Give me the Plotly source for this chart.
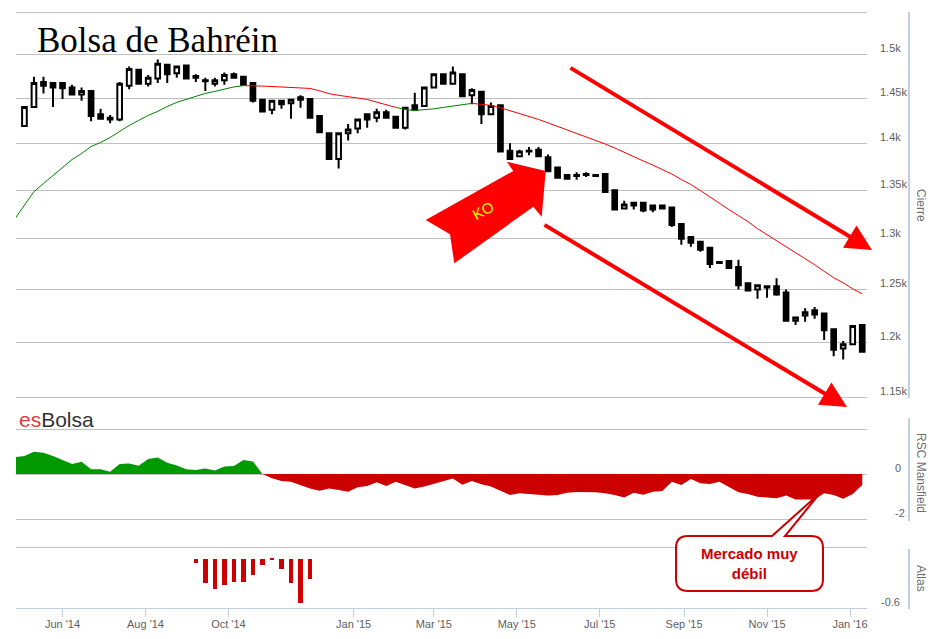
import math

import pandas as pd
import plotly.graph_objects as go

# weekly bars; week 0 is only used by the indicators (it sits left of the view)
weeks = pd.date_range("2014-04-27", periods=90, freq="7D")
candle_weeks = weeks[1:]

opens = [1419, 1440, 1468, 1467, 1467, 1462, 1454, 1458, 1432, 1428,
         1426, 1464, 1482, 1466, 1472, 1488, 1478, 1487, 1475, 1470,
         1466, 1470, 1477, 1474, 1467, 1448, 1437, 1447, 1444, 1451,
         1449, 1430, 1411, 1383, 1411, 1416, 1432, 1428, 1434, 1429,
         1417, 1442, 1441, 1462, 1477, 1466, 1477, 1453, 1457, 1432,
         1442, 1392, 1386, 1391, 1393, 1385, 1374, 1366, 1366, 1367,
         1366, 1367, 1350, 1331, 1337, 1337, 1334, 1334, 1332, 1315,
         1302, 1297, 1291, 1277, 1278, 1272, 1256, 1250, 1253, 1253,
         1247, 1220, 1225, 1230, 1227, 1212, 1194, 1198, 1216]
highs = [1441, 1474, 1474, 1468, 1467, 1465, 1462, 1458, 1438, 1431,
         1468, 1486, 1483, 1476, 1494, 1489, 1487, 1488, 1477, 1473,
         1473, 1479, 1479, 1475, 1468, 1448, 1447, 1447, 1448, 1453,
         1450, 1430, 1411, 1411, 1421, 1427, 1432, 1438, 1437, 1430,
         1440, 1456, 1462, 1478, 1477, 1486, 1477, 1461, 1458, 1445,
         1442, 1400, 1393, 1396, 1396, 1388, 1374, 1366, 1369, 1369,
         1367, 1367, 1350, 1339, 1337, 1337, 1334, 1335, 1332, 1315,
         1302, 1297, 1291, 1277, 1278, 1279, 1256, 1255, 1254, 1261,
         1250, 1224, 1232, 1233, 1227, 1212, 1201, 1215, 1216]
lows = [1418, 1439, 1455, 1440, 1449, 1454, 1447, 1424, 1427, 1422,
        1424, 1460, 1465, 1463, 1467, 1467, 1473, 1472, 1468, 1458,
        1463, 1465, 1472, 1464, 1445, 1434, 1432, 1438, 1427, 1439,
        1428, 1411, 1382, 1373, 1403, 1411, 1417, 1423, 1427, 1417,
        1415, 1437, 1440, 1462, 1465, 1465, 1452, 1443, 1421, 1432,
        1390, 1383, 1385, 1387, 1385, 1370, 1363, 1362, 1361, 1364,
        1364, 1348, 1330, 1330, 1330, 1327, 1327, 1331, 1312, 1294,
        1292, 1287, 1271, 1275, 1270, 1250, 1248, 1241, 1242, 1244,
        1220, 1216, 1219, 1222, 1202, 1187, 1184, 1198, 1191]
closes = [1440, 1467, 1464, 1462, 1461, 1454, 1458, 1430, 1427, 1426,
          1466, 1483, 1466, 1473, 1489, 1477, 1486, 1472, 1473, 1469,
          1470, 1476, 1473, 1465, 1447, 1435, 1447, 1443, 1448, 1448,
          1428, 1412, 1383, 1411, 1415, 1426, 1426, 1434, 1428, 1417,
          1439, 1437, 1462, 1477, 1466, 1479, 1452, 1459, 1432, 1441,
          1391, 1383, 1391, 1392, 1386, 1370, 1363, 1362, 1365, 1366,
          1365, 1348, 1330, 1335, 1334, 1329, 1330, 1331, 1314, 1300,
          1296, 1289, 1275, 1276, 1271, 1254, 1249, 1254, 1252, 1245,
          1220, 1223, 1228, 1226, 1211, 1193, 1198, 1215, 1191]

# moving average of the close (one value per week, week 0 included)
ma30 = [1320.5, 1335.0, 1348.5, 1357.0, 1365.4, 1373.9, 1382.5, 1388.9, 1396.5, 1400.9,
        1406.3, 1412.9, 1419.5, 1425.0, 1430.6, 1435.0, 1440.6, 1445.1, 1448.4, 1451.8,
        1455.2, 1457.5, 1460.3, 1462.5, 1464.0, 1464.0, 1463.5, 1463.0, 1462.3, 1462.0,
        1461.4, 1460.8, 1458.1, 1454.9, 1453.0, 1451.8, 1450.0, 1448.4, 1445.7, 1442.9,
        1439.5, 1437.2, 1436.1, 1436.9, 1437.9, 1439.5, 1441.2, 1442.5, 1444.0, 1443.0,
        1441.8, 1439.1, 1435.9, 1432.8, 1429.5, 1426.1, 1422.3, 1418.4, 1415.1, 1411.2,
        1407.4, 1403.6, 1399.2, 1394.9, 1390.0, 1385.7, 1380.9, 1376.6, 1371.8, 1367.0,
        1361.2, 1355.9, 1349.6, 1342.8, 1336.0, 1329.8, 1323.6, 1317.5, 1310.3, 1304.2,
        1298.2, 1292.6, 1286.6, 1280.6, 1274.2, 1267.7, 1261.4, 1256.5, 1250.6, 1245.8]

rsc_mansfield = [0.75, 0.80, 0.99, 0.95, 0.80, 0.62, 0.44, 0.55, 0.21, 0.21,
                 0.10, 0.44, 0.47, 0.37, 0.67, 0.73, 0.50, 0.38, 0.21, 0.18,
                 0.25, 0.15, 0.33, 0.36, 0.62, 0.56, 0.0, -0.19, -0.31, -0.34,
                 -0.49, -0.64, -0.74, -0.64, -0.71, -0.79, -0.59, -0.53, -0.37, -0.53,
                 -0.34, -0.49, -0.65, -0.56, -0.44, -0.30, -0.20, -0.48, -0.31, -0.46,
                 -0.56, -0.74, -0.93, -0.86, -0.89, -0.92, -0.96, -0.93, -0.83, -0.80,
                 -0.81, -0.81, -0.86, -0.93, -1.05, -0.83, -0.92, -0.79, -0.76, -0.34,
                 -0.49, -0.22, -0.41, -0.44, -0.34, -0.59, -0.81, -0.89, -1.01, -1.04,
                 -1.08, -0.96, -1.13, -1.13, -1.13, -0.86, -0.93, -1.10, -0.89, -0.49]

atlas_first_week = 19
atlas = [-0.05, -0.29, -0.36, -0.32, -0.28, -0.28, -0.20, -0.08, -0.02, -0.12, -0.29, -0.53, -0.24]

month_ticks = ["2014-06-01", "2014-08-01", "2014-10-01", "2015-01-01", "2015-03-01",
               "2015-05-01", "2015-07-01", "2015-09-01", "2015-11-01", "2016-01-01"]
month_labels = ["Jun '14", "Aug '14", "Oct '14", "Jan '15", "Mar '15",
                "May '15", "Jul '15", "Sep '15", "Nov '15", "Jan '16"]
price_ticks = [1150, 1200, 1250, 1300, 1350, 1400, 1450, 1500, 1550]
price_labels = ["1.15k", "1.2k", "1.25k", "1.3k", "1.35k", "1.4k", "1.45k", "1.5k", ""]
support_level = 1383

W, H = 931, 639
L, R, T, B = 16, 867, 10, 608   # plot area in pixels


def px(x, y):
    # pixel position -> paper coordinates
    return (x - L) / (R - L), (B - y) / (B - T)


def path(cmds):
    out = ""
    for c, pts in cmds:
        for (x, y) in pts:
            a, b = px(x, y)
            out += f"{c}{a:.5f},{b:.5f} "
    return out + "Z"


def qpath(start, segs):
    # rounded box: straight L points and Q (control, end) pairs
    a, b = px(*start)
    out = f"M{a:.5f},{b:.5f} "
    for s in segs:
        if len(s) == 2 and isinstance(s[0], tuple):
            (c1, c2), (e1, e2) = px(*s[0]), px(*s[1])
            out += f"Q{c1:.5f},{c2:.5f} {e1:.5f},{e2:.5f} "
        else:
            e1, e2 = px(*s)
            out += f"L{e1:.5f},{e2:.5f} "
    return out + "Z"


fig = go.Figure()

fig.add_trace(go.Candlestick(
    x=candle_weeks, open=opens, high=highs, low=lows, close=closes,
    increasing=dict(line=dict(color="black", width=2), fillcolor="white"),
    decreasing=dict(line=dict(color="black", width=2), fillcolor="black"),
    showlegend=False, yaxis="y"))

# moving average coloured green while the close stays above it, red otherwise
runs = []
for i in range(len(closes)):
    col = "#008000" if closes[i] > ma30[i + 1] else "#ff0000"
    if runs and runs[-1][0] == col:
        runs[-1][2] = i + 1
    else:
        runs.append([col, i, i + 1])
for col, a, b in runs:
    fig.add_trace(go.Scatter(x=weeks[a:b + 1], y=ma30[a:b + 1], mode="lines",
                             line=dict(color=col, width=1), showlegend=False, yaxis="y"))

rsc_up = [max(v, 0) for v in rsc_mansfield]
rsc_down = [min(v, 0) for v in rsc_mansfield]
fig.add_trace(go.Scatter(x=weeks, y=rsc_up, mode="lines", fill="tozeroy",
                         fillcolor="#009900", line=dict(width=0), showlegend=False, yaxis="y2"))
fig.add_trace(go.Scatter(x=weeks, y=rsc_down, mode="lines", fill="tozeroy",
                         fillcolor="#cc0000", line=dict(width=0), showlegend=False, yaxis="y2"))

fig.add_trace(go.Bar(x=weeks[atlas_first_week:atlas_first_week + len(atlas)], y=atlas,
                     width=3.2 * 86400000, marker=dict(color="#cc0000", line=dict(width=0)),
                     showlegend=False, yaxis="y3"))

tick_font = dict(family="Liberation Sans", size=11, color="#606060")
grid = "#c0c0c0"
# price pane: 1150 at y=397, 1550 at y=12 (log scale), extended a little at both ends
per_px = (math.log10(1550) - math.log10(1150)) / 385
fig.update_layout(
    width=W, height=H,
    margin=dict(l=L, r=W - R, t=T, b=H - B, pad=0),
    paper_bgcolor="white", plot_bgcolor="white",
    font=dict(family="Liberation Sans", size=11, color="#606060"),
    template="none",
    xaxis=dict(type="date", range=["2014-04-27 19:00", "2016-01-13 12:00"],
               tickvals=month_ticks, ticktext=month_labels, tickfont=tick_font,
               ticks="outside", ticklen=8, tickcolor="#c0d0e0", showgrid=False,
               showline=True, linecolor="#c0d0e0", linewidth=1, zeroline=False,
               ticklabelstandoff=-2,
               anchor="y3", rangeslider=dict(visible=False), automargin=False),
    yaxis=dict(type="log", domain=[(B - 399) / (B - T), 1],
               range=[math.log10(1150) - 2 * per_px, math.log10(1550) + 2 * per_px],
               tickvals=price_ticks, ticktext=price_labels, tickfont=tick_font,
               side="right", anchor="x", gridcolor=grid, showline=False, ticks="",
               ticklabelshift=-6, ticklabelstandoff=12, automargin=False),
    yaxis2=dict(domain=[(B - 521) / (B - T), (B - 418) / (B - T)],
                range=[-2.089, 2.489], tickvals=[-2, 0, 2], ticktext=["-2", "0", ""],
                tickfont=tick_font, side="right", anchor="x", gridcolor=grid,
                zeroline=False, showline=False, ticks="",
                ticklabelshift=-6, ticklabelstandoff=27, automargin=False),
    yaxis3=dict(domain=[0, (B - 545.5) / (B - T)], range=[-0.6, 0.15],
                tickvals=[-0.6, 0.13], ticktext=["-0.6", ""], tickfont=tick_font,
                side="right", anchor="x", gridcolor=grid, zeroline=False,
                showline=False, ticks="", ticklabelshift=-6, ticklabelstandoff=13,
                automargin=False),
    bargap=0,
)

shapes = []
# support line drawn on the chart
shapes.append(dict(type="line", xref="x", yref="y", x0="2014-05-05", x1="2015-07-14",
                   y0=math.log10(support_level), y1=math.log10(support_level),
                   line=dict(color="#ff0000", width=3), layer="above"))
# big "KO" arrow
ko = [(425.7, 220), (513.3, 171), (506.7, 161.7), (545.7, 171), (541.7, 216.7),
      (533.3, 206.7), (454.3, 263.3), (450, 234.3)]
shapes.append(dict(type="path", xref="paper", yref="paper",
                   path=path([("M", ko[:1]), ("L", ko[1:])]),
                   fillcolor="#ff0000", line=dict(width=0), layer="above"))
# callout box with its pointer
callout = qpath((688, 536), [
    (772, 536), (820, 493), (785, 536), (811, 536),
    ((823, 536), (823, 548)), (823, 579),
    ((823, 591), (811, 591)), (688, 591),
    ((676, 591), (676, 579)), (676, 548),
    ((676, 536), (688, 536)),
])
shapes.append(dict(type="path", xref="paper", yref="paper", path=callout,
                   fillcolor="white", line=dict(color="#cc0000", width=2), layer="above"))
# right-hand axis lines
for y0, y1 in [(12, 398), (418, 521), (549, 609)]:
    xa, ya = px(909, y0)
    _, yb = px(909, y1)
    shapes.append(dict(type="line", xref="paper", yref="paper", x0=xa, x1=xa, y0=ya, y1=yb,
                       line=dict(color="#c0d0e0", width=2)))
fig.update_layout(shapes=shapes)


def note(text, x, y, **kw):
    a, b = px(x, y)
    d = dict(text=text, x=a, y=b, xref="paper", yref="paper", showarrow=False,
             xanchor="center", yanchor="middle")
    d.update(kw)
    return d


ann = [
    note("Bolsa de Bahréin", 35, 41, xanchor="left",
         font=dict(family="Liberation Serif", size=35, color="black")),
    note('<span style="color:#e03a3a">es</span>Bolsa', 17, 419, xanchor="left",
         font=dict(family="Liberation Sans", size=21, color="#333333")),
    note("KO", 483, 210, textangle=-29,
         font=dict(family="Liberation Sans", size=15, color="#ffff00")),
    note("<b>Mercado muy<br>débil</b>", 749.5, 563,
         font=dict(family="Liberation Sans", size=15, color="#cc0000")),
]
for label, yc in [("Cierre", 205), ("RSC Mansfield", 473), ("Atlas", 578)]:
    ann.append(note(label, 921, yc, textangle=90,
                    font=dict(family="Liberation Sans", size=12, color="#707070")))
# trend arrows
for (hx, hy), (sx, sy) in [((872, 250), (569, 67)), ((847, 407), (543, 224))]:
    ann.append(note("", hx, hy, ax=sx - hx, ay=sy - hy, showarrow=True, arrowhead=2,
                    arrowsize=1.3, arrowwidth=4, arrowcolor="#ff0000", standoff=0))
fig.update_layout(annotations=ann)

fig.write_html("out.html", config={"displayModeBar": False},
               post_script="document.body.style.margin='0';")
